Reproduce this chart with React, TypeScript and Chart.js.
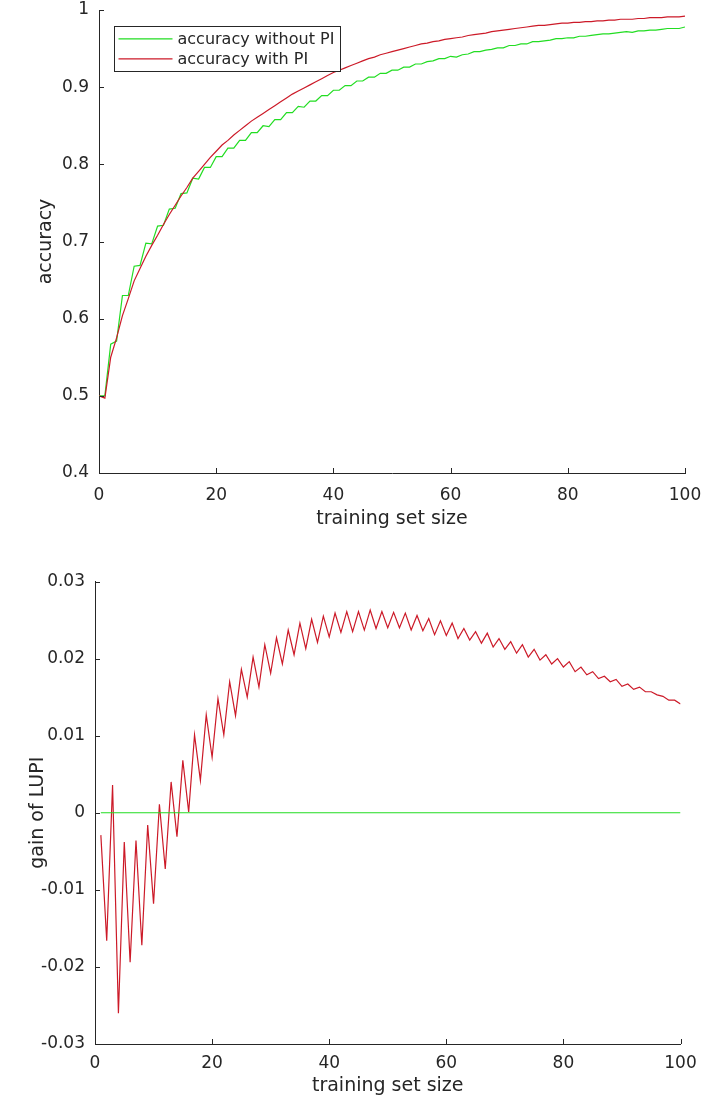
import React, { useEffect, useRef } from "react";
import { Chart, registerables } from "chart.js";

Chart.register(...registerables);

// ---------------- data ----------------
const TOP_SIZES = [
  0, 1, 2, 3, 4, 5, 6, 7, 8, 9,
  10, 11, 12, 13, 14, 15, 16, 17, 18, 19,
  20, 21, 22, 23, 24, 25, 26, 27, 28, 29,
  30, 31, 32, 33, 34, 35, 36, 37, 38, 39,
  40, 41, 42, 43, 44, 45, 46, 47, 48, 49,
  50, 51, 52, 53, 54, 55, 56, 57, 58, 59,
  60, 61, 62, 63, 64, 65, 66, 67, 68, 69,
  70, 71, 72, 73, 74, 75, 76, 77, 78, 79,
  80, 81, 82, 83, 84, 85, 86, 87, 88, 89,
  90, 91, 92, 93, 94, 95, 96, 97, 98, 99,
  100,
];

const ACC_WITHOUT_PI = [
  0.500, 0.500, 0.567, 0.571, 0.630, 0.630, 0.668, 0.669, 0.698, 0.697,
  0.720, 0.721, 0.742, 0.743, 0.762, 0.763, 0.782, 0.781, 0.796, 0.796,
  0.810, 0.810, 0.821, 0.821, 0.831, 0.831, 0.841, 0.841, 0.850, 0.849,
  0.858, 0.858, 0.867, 0.867, 0.875, 0.874, 0.882, 0.882, 0.889, 0.889,
  0.896, 0.896, 0.902, 0.902, 0.908, 0.908, 0.913, 0.913, 0.918, 0.918,
  0.922, 0.922, 0.926, 0.926, 0.930, 0.930, 0.933, 0.934, 0.937, 0.937,
  0.940, 0.939, 0.942, 0.943, 0.946, 0.946, 0.948, 0.949, 0.951, 0.951,
  0.954, 0.954, 0.956, 0.956, 0.959, 0.959, 0.960, 0.961, 0.963, 0.963,
  0.964, 0.964, 0.966, 0.966, 0.967, 0.968, 0.969, 0.969, 0.970, 0.971,
  0.972, 0.971, 0.973, 0.973, 0.974, 0.974, 0.975, 0.976, 0.976, 0.976,
  0.978,
];

const ACC_WITH_PI = [
  0.500, 0.497, 0.550, 0.575, 0.604, 0.626, 0.649, 0.665, 0.681, 0.695,
  0.708, 0.722, 0.735, 0.747, 0.759, 0.770, 0.782, 0.791, 0.800, 0.809,
  0.817, 0.825, 0.831, 0.838, 0.844, 0.850, 0.856, 0.861, 0.866, 0.871,
  0.876, 0.881, 0.886, 0.891, 0.895, 0.899, 0.903, 0.907, 0.911, 0.915,
  0.919, 0.922, 0.925, 0.928, 0.931, 0.934, 0.937, 0.939, 0.942, 0.944,
  0.946, 0.948, 0.950, 0.952, 0.954, 0.956, 0.957, 0.959, 0.960, 0.962,
  0.963, 0.964, 0.965, 0.967, 0.968, 0.969, 0.970, 0.972, 0.973, 0.974,
  0.975, 0.976, 0.977, 0.978, 0.979, 0.980, 0.980, 0.981, 0.982, 0.983,
  0.983, 0.984, 0.984, 0.985, 0.985, 0.986, 0.986, 0.987, 0.987, 0.988,
  0.988, 0.988, 0.989, 0.989, 0.990, 0.990, 0.990, 0.991, 0.991, 0.991,
  0.992,
];

const GAIN_SIZES = [
  1, 2, 3, 4, 5, 6, 7, 8, 9, 10,
  11, 12, 13, 14, 15, 16, 17, 18, 19, 20,
  21, 22, 23, 24, 25, 26, 27, 28, 29, 30,
  31, 32, 33, 34, 35, 36, 37, 38, 39, 40,
  41, 42, 43, 44, 45, 46, 47, 48, 49, 50,
  51, 52, 53, 54, 55, 56, 57, 58, 59, 60,
  61, 62, 63, 64, 65, 66, 67, 68, 69, 70,
  71, 72, 73, 74, 75, 76, 77, 78, 79, 80,
  81, 82, 83, 84, 85, 86, 87, 88, 89, 90,
  91, 92, 93, 94, 95, 96, 97, 98, 99, 100,
];

const GAIN_OF_LUPI = [
  -0.0029, -0.0166, 0.0036, -0.0260, -0.0038, -0.0194, -0.0036, -0.0172, -0.0016, -0.0118,
  0.0011, -0.0073, 0.0040, -0.0031, 0.0068, 0.0001, 0.0101, 0.0042, 0.0127, 0.0072,
  0.0148, 0.0101, 0.0170, 0.0126, 0.0186, 0.0150, 0.0202, 0.0163, 0.0218, 0.0181,
  0.0227, 0.0193, 0.0237, 0.0205, 0.0246, 0.0213, 0.0251, 0.0221, 0.0255, 0.0228,
  0.0259, 0.0234, 0.0261, 0.0235, 0.0261, 0.0237, 0.0263, 0.0239, 0.0261, 0.0240,
  0.0260, 0.0240, 0.0259, 0.0237, 0.0256, 0.0236, 0.0252, 0.0231, 0.0249, 0.0230,
  0.0246, 0.0226, 0.0239, 0.0224, 0.0235, 0.0220, 0.0233, 0.0215, 0.0226, 0.0212,
  0.0222, 0.0207, 0.0218, 0.0202, 0.0212, 0.0198, 0.0205, 0.0193, 0.0200, 0.0189,
  0.0196, 0.0183, 0.0189, 0.0179, 0.0183, 0.0174, 0.0177, 0.0170, 0.0173, 0.0164,
  0.0167, 0.0160, 0.0163, 0.0157, 0.0157, 0.0153, 0.0151, 0.0146, 0.0146, 0.0141,
];

const GAIN_BASELINE = [
  0, 0, 0, 0, 0, 0, 0, 0, 0, 0,
  0, 0, 0, 0, 0, 0, 0, 0, 0, 0,
  0, 0, 0, 0, 0, 0, 0, 0, 0, 0,
  0, 0, 0, 0, 0, 0, 0, 0, 0, 0,
  0, 0, 0, 0, 0, 0, 0, 0, 0, 0,
  0, 0, 0, 0, 0, 0, 0, 0, 0, 0,
  0, 0, 0, 0, 0, 0, 0, 0, 0, 0,
  0, 0, 0, 0, 0, 0, 0, 0, 0, 0,
  0, 0, 0, 0, 0, 0, 0, 0, 0, 0,
  0, 0, 0, 0, 0, 0, 0, 0, 0, 0,
];

const X_TICKS = [0, 20, 40, 60, 80, 100];
const X_TICK_LABELS = ["0", "20", "40", "60", "80", "100"];
const TOP_Y_TICKS = [0.4, 0.5, 0.6, 0.7, 0.8, 0.9, 1];
const TOP_Y_TICK_LABELS = ["0.4", "0.5", "0.6", "0.7", "0.8", "0.9", "1"];
const BOT_Y_TICKS = [-0.03, -0.02, -0.01, 0, 0.01, 0.02, 0.03];
const BOT_Y_TICK_LABELS = ["-0.03", "-0.02", "-0.01", "0", "0.01", "0.02", "0.03"];

const LABEL_WITHOUT = "accuracy without PI";
const LABEL_WITH = "accuracy with PI";

// ---------------- styles ----------------
const FONT = "'DejaVu Sans', 'Noto Sans', sans-serif";
const AXIS = "#262626";
const GREEN = "#22dd22";
const RED = "#cc1a28";

const pts = (xs: number[], ys: number[]) => xs.map((x, i) => ({ x, y: ys[i] }));

const inwardTicks = {
  id: "inwardTicks",
  afterDatasetsDraw(chart: any) {
    const { ctx, chartArea, scales } = chart;
    const xs = scales.x;
    const ys = scales.y;
    ctx.save();
    ctx.strokeStyle = AXIS;
    ctx.lineWidth = 1;
    ctx.beginPath();
    xs.ticks.forEach((t: any) => {
      const px = Math.round(xs.getPixelForValue(t.value)) + 0.5;
      ctx.moveTo(px, chartArea.bottom);
      ctx.lineTo(px, chartArea.bottom - 5);
    });
    ys.ticks.forEach((t: any) => {
      const py = Math.round(ys.getPixelForValue(t.value)) + 0.5;
      ctx.moveTo(chartArea.left, py);
      ctx.lineTo(chartArea.left + 5, py);
    });
    ctx.stroke();
    ctx.restore();
  },
};

const boxLegend = {
  id: "boxLegend",
  afterDraw(chart: any) {
    const { ctx, chartArea } = chart;
    const ds = chart.data.datasets;
    ctx.save();
    ctx.font = `16px ${FONT}`;
    const maxW = Math.max(...ds.map((d: any) => ctx.measureText(d.label).width));
    const left = Math.round(chartArea.left + 15) + 0.5;
    const top = Math.round(chartArea.top + 16) + 0.5;
    const w = Math.round(63 + maxW + 6);
    const h = 45;
    ctx.fillStyle = "#ffffff";
    ctx.fillRect(left, top, w, h);
    ctx.strokeStyle = AXIS;
    ctx.lineWidth = 1;
    ctx.strokeRect(left, top, w, h);
    ds.forEach((d: any, i: number) => {
      const y = top + 12.3 + i * 20;
      ctx.strokeStyle = d.borderColor;
      ctx.lineWidth = 1.2;
      ctx.beginPath();
      ctx.moveTo(left + 4, y);
      ctx.lineTo(left + 58, y);
      ctx.stroke();
      ctx.fillStyle = AXIS;
      ctx.textAlign = "left";
      ctx.textBaseline = "middle";
      ctx.fillText(d.label, left + 63, y + 1);
    });
    ctx.restore();
  },
};

function xScale(tickPad: number, titlePad: number) {
  return {
    type: "linear",
    min: 0,
    max: 100,
    afterBuildTicks: (s: any) => {
      s.ticks = X_TICKS.map((v) => ({ value: v }));
    },
    afterFit: (s: any) => {
      s.height = 60;
      s.paddingLeft = 0;
      s.paddingRight = 0;
    },
    grid: { display: false, drawTicks: false },
    border: { display: true, color: AXIS, width: 1 },
    ticks: {
      color: AXIS,
      font: { family: FONT, size: 17 },
      padding: tickPad,
      maxRotation: 0,
      autoSkip: false,
      callback: (_v: any, i: number) => X_TICK_LABELS[i],
    },
    title: {
      display: true,
      text: "training set size",
      color: AXIS,
      font: { family: FONT, size: 19 },
      padding: { top: 0, bottom: titlePad },
    },
  };
}

function yScale(min: number, max: number, ticks: number[], labels: string[], width: number, title: string, titleLeft: number) {
  return {
    type: "linear",
    min,
    max,
    afterBuildTicks: (s: any) => {
      s.ticks = ticks.map((v) => ({ value: v }));
    },
    afterFit: (s: any) => {
      s.width = width;
      s.paddingTop = 0;
      s.paddingBottom = 0;
    },
    grid: { display: false, drawTicks: false },
    border: { display: true, color: AXIS, width: 1 },
    ticks: {
      color: AXIS,
      font: { family: FONT, size: 17, lineHeight: 1 },
      padding: 10,
      autoSkip: false,
      callback: (_v: any, i: number) => labels[i],
    },
    title: {
      display: true,
      text: title,
      color: AXIS,
      font: { family: FONT, size: 19 },
      padding: { top: titleLeft, bottom: 0 },
    },
  };
}

export default function App() {
  const topRef = useRef<HTMLCanvasElement>(null);
  const botRef = useRef<HTMLCanvasElement>(null);

  useEffect(() => {
    const top = new Chart(topRef.current as HTMLCanvasElement, {
      type: "line",
      data: {
        datasets: [
          {
            label: LABEL_WITHOUT,
            data: pts(TOP_SIZES, ACC_WITHOUT_PI),
            borderColor: GREEN,
            borderWidth: 1.2,
            pointRadius: 0,
            tension: 0,
            fill: false,
            order: 1,
          },
          {
            label: LABEL_WITH,
            data: pts(TOP_SIZES, ACC_WITH_PI),
            borderColor: RED,
            borderWidth: 1.2,
            pointRadius: 0,
            tension: 0,
            fill: false,
            order: 0,
          },
        ],
      },
      options: {
        responsive: false,
        animation: false,
        devicePixelRatio: 1,
        layout: { autoPadding: false, padding: { left: 0, right: 17, top: 10, bottom: 12 } },
        plugins: { legend: { display: false }, tooltip: { enabled: false } },
        scales: {
          x: xScale(12, 2.6) as any,
          y: yScale(0.4, 1, TOP_Y_TICKS, TOP_Y_TICK_LABELS, 99, "accuracy", 34.6) as any,
        },
      },
      plugins: [inwardTicks, boxLegend],
    } as any);

    const bot = new Chart(botRef.current as HTMLCanvasElement, {
      type: "line",
      data: {
        datasets: [
          {
            label: "gain of LUPI",
            data: pts(GAIN_SIZES, GAIN_OF_LUPI),
            borderColor: RED,
            borderWidth: 1.2,
            pointRadius: 0,
            tension: 0,
            fill: false,
            order: 1,
          },
          {
            label: "baseline",
            data: pts(GAIN_SIZES, GAIN_BASELINE),
            borderColor: GREEN,
            borderWidth: 1.2,
            pointRadius: 0,
            tension: 0,
            fill: false,
            order: 0,
          },
        ],
      },
      options: {
        responsive: false,
        animation: false,
        devicePixelRatio: 1,
        layout: { autoPadding: false, padding: { left: 0, right: 21.5, top: 21.5, bottom: 1 } },
        plugins: { legend: { display: false }, tooltip: { enabled: false } },
        scales: {
          x: xScale(9, 6.6) as any,
          y: yScale(-0.03, 0.03, BOT_Y_TICKS, BOT_Y_TICK_LABELS, 95, "gain of LUPI", 26.6) as any,
        },
      },
      plugins: [inwardTicks],
    } as any);

    return () => {
      top.destroy();
      bot.destroy();
    };
  }, []);

  return (
    <div style={{ position: "absolute", left: 0, top: 0, width: 702, height: 1105, background: "#ffffff" }}>
      <canvas
        ref={topRef}
        width={702}
        height={545}
        style={{ position: "absolute", left: 0, top: 0, width: 702, height: 545, display: "block" }}
      />
      <canvas
        ref={botRef}
        width={702}
        height={545}
        style={{ position: "absolute", left: 0, top: 560, width: 702, height: 545, display: "block" }}
      />
    </div>
  );
}
